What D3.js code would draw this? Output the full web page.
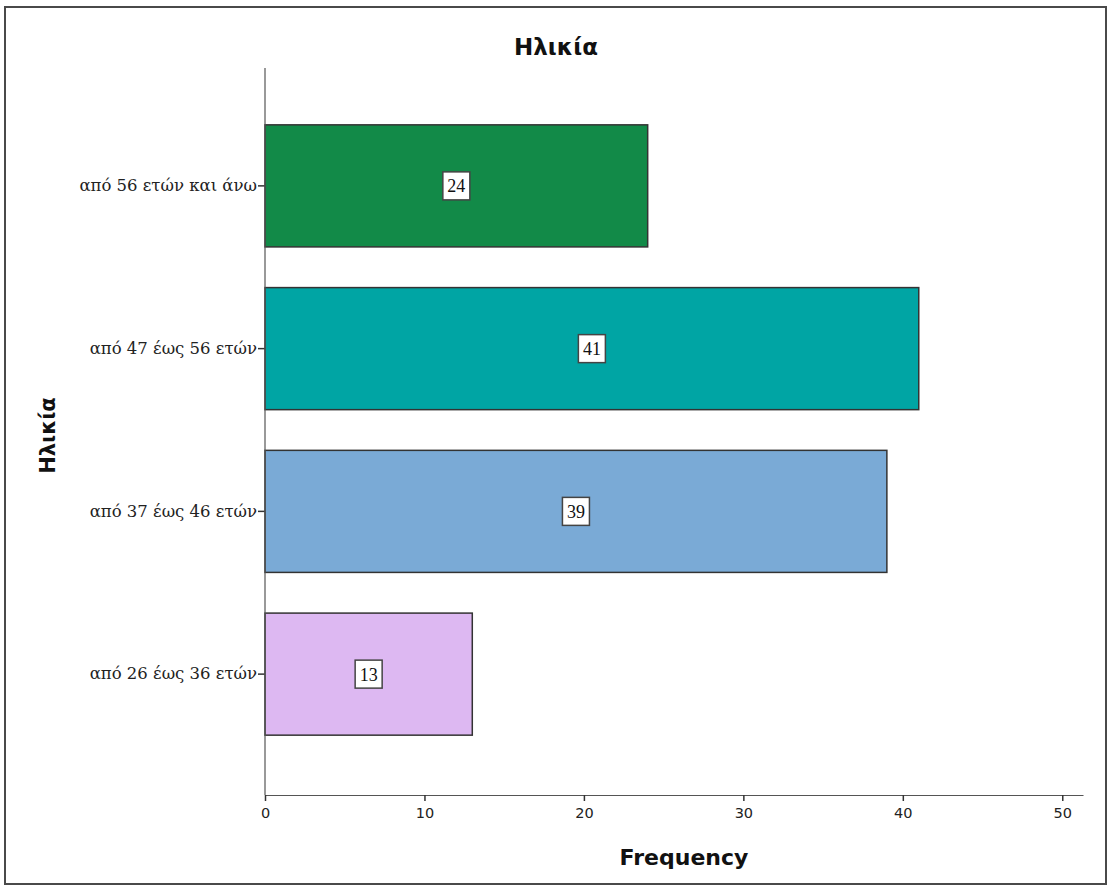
<!DOCTYPE html>
<html>
<head>
<meta charset="utf-8">
<script src="https://cdn.jsdelivr.net/npm/d3@7"></script>
<style>
  html, body { margin: 0; padding: 0; background: #fff; }
  svg { display: block; }
</style>
</head>
<body>
<svg id="chart" width="1110" height="890"></svg>
<script>
// Age groups (top to bottom) and their frequencies
const categories = ["από 56 ετών και άνω", "από 47 έως 56 ετών", "από 37 έως 46 ετών", "από 26 έως 36 ετών"];
const frequencies = [24, 41, 39, 13];
const barColors = ["#128a48", "#00a5a4", "#7aaad6", "#ddb8f2"];
const xTicks = [0, 10, 20, 30, 40, 50];
const chartTitle = "Ηλικία";
const xTitle = "Frequency";
const yTitle = "Ηλικία";

const svg = d3.select("#chart");

// outer frame
svg.append("rect")
  .attr("x", 5).attr("y", 7)
  .attr("width", 1101).attr("height", 877)
  .attr("fill", "#fff")
  .attr("stroke", "#4a4a4a")
  .attr("stroke-width", 2);

const plot = { left: 265, right: 1083, top: 68, bottom: 795 };

const x = d3.scaleLinear()
  .domain([0, 51.3])
  .range([plot.left, plot.right]);

const y = d3.scaleBand()
  .domain(categories)
  .range([104.5, 755.5])
  .paddingInner(0.25)
  .paddingOuter(0.125);

// bars
const bars = svg.append("g");
bars.selectAll("rect")
  .data(categories)
  .join("rect")
  .attr("x", x(0))
  .attr("y", d => y(d))
  .attr("width", (d, i) => x(frequencies[i]) - x(0))
  .attr("height", y.bandwidth())
  .attr("fill", (d, i) => barColors[i])
  .attr("stroke", "#333")
  .attr("stroke-width", 1.5);

// value labels in white boxes at bar centres
const labels = svg.append("g");
categories.forEach((c, i) => {
  const cx = x(frequencies[i] / 2);
  const cy = y(c) + y.bandwidth() / 2;
  const g = labels.append("g").attr("transform", `translate(${cx},${cy})`);
  const t = g.append("text")
    .attr("text-anchor", "middle")
    .attr("dy", "0.36em")
    .attr("font-family", "Liberation Serif, serif")
    .attr("font-size", 18)
    .attr("fill", "#111")
    .text(frequencies[i]);
  const w = t.node().getComputedTextLength() + 9;
  g.insert("rect", "text")
    .attr("x", -w / 2).attr("y", -14)
    .attr("width", w).attr("height", 28)
    .attr("fill", "#fff")
    .attr("stroke", "#444")
    .attr("stroke-width", 1.5);
});

// x axis
const xAxis = svg.append("g")
  .attr("transform", `translate(0,${plot.bottom})`)
  .call(d3.axisBottom(x).tickValues(xTicks).tickSize(6).tickSizeOuter(0));
xAxis.select(".domain").attr("stroke", "#555").attr("stroke-width", 1.2);
xAxis.selectAll(".tick line").attr("stroke", "#333").attr("stroke-width", 1.5);
xAxis.selectAll(".tick text")
  .attr("font-family", "DejaVu Sans, sans-serif")
  .attr("font-size", 14.5)
  .attr("fill", "#222")
  .attr("dy", "0.95em");

// y axis
const yAxis = svg.append("g")
  .attr("transform", `translate(${plot.left},0)`)
  .call(d3.axisLeft(y).tickSize(7).tickSizeOuter(0));
yAxis.select(".domain").remove();
yAxis.append("line")
  .attr("x1", 0).attr("x2", 0)
  .attr("y1", plot.top).attr("y2", plot.bottom)
  .attr("stroke", "#555").attr("stroke-width", 1.2);
yAxis.selectAll(".tick line").attr("stroke", "#333").attr("stroke-width", 1.5);
yAxis.selectAll(".tick text")
  .attr("font-family", "DejaVu Serif, serif")
  .attr("font-size", 16.5)
  .attr("fill", "#222")
  .attr("x", -8);

// titles
svg.append("text")
  .attr("x", 556).attr("y", 55)
  .attr("text-anchor", "middle")
  .attr("font-family", "DejaVu Sans, sans-serif")
  .attr("font-size", 23)
  .attr("font-weight", "bold")
  .attr("fill", "#111")
  .text(chartTitle);

svg.append("text")
  .attr("x", 684).attr("y", 865)
  .attr("text-anchor", "middle")
  .attr("font-family", "DejaVu Sans, sans-serif")
  .attr("font-size", 22)
  .attr("font-weight", "bold")
  .attr("fill", "#111")
  .text(xTitle);

svg.append("text")
  .attr("transform", `translate(55,${(plot.top + plot.bottom) / 2 + 4}) rotate(-90)`)
  .attr("text-anchor", "middle")
  .attr("font-family", "DejaVu Sans, sans-serif")
  .attr("font-size", 21)
  .attr("font-weight", "bold")
  .attr("fill", "#111")
  .text(yTitle);
</script>
</body>
</html>
